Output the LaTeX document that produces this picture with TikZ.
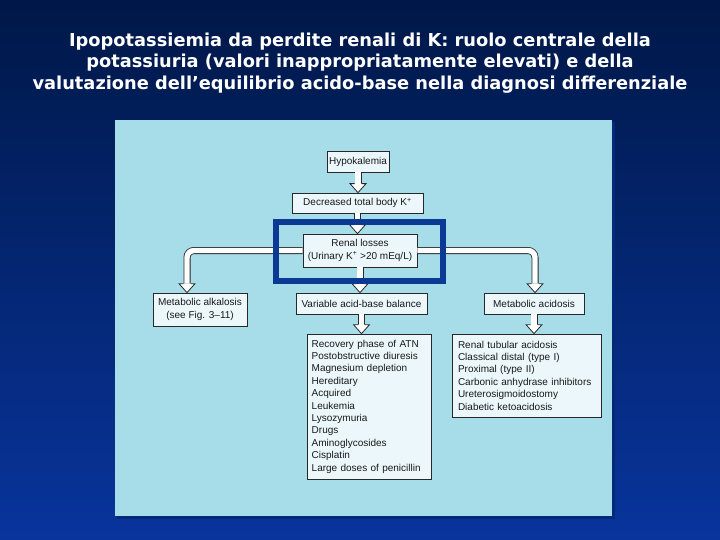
\documentclass[tikz,border=0pt]{standalone}
\usepackage{fontspec}
\setmainfont{Liberation Sans}
\newfontfamily\titlefont{DejaVu Sans}
\definecolor{bgtop}{RGB}{0,24,72}
\definecolor{bgbot}{RGB}{8,52,156}
\definecolor{panel}{RGB}{166,221,232}
\definecolor{panelshadow}{RGB}{5,40,120}
\definecolor{hl}{RGB}{10,58,148}
\definecolor{boxfill}{RGB}{235,247,250}
\definecolor{boxline}{RGB}{40,40,40}
\definecolor{boxtext}{RGB}{25,25,25}
\newcommand\ahead[1]{\filldraw[headsty] ([xshift=-3.5pt,yshift=9pt]#1) -- ++(-4.5pt,0pt) -- (#1) -- ++(8pt,9pt) -- ++(-4.5pt,0pt);}
\begin{document}
\begin{tikzpicture}[x=1pt,y=-1pt,
  box/.style={draw=boxline, line width=0.7pt, fill=boxfill, text=boxtext, font=\fontsize{10}{12.8}\selectfont, align=center, inner sep=1pt},
  listbox/.style={box, align=left, font=\fontsize{10}{12.4}\selectfont},
  pipe/.style={draw=boxline, line width=0.8pt, double=white, double distance=5.4pt},
  headsty/.style={fill=white, draw=boxline, line width=0.8pt, line join=miter},
  titletext/.style={text=white, font=\titlefont\bfseries\fontsize{17.8}{21}\selectfont, anchor=base}]
\useasboundingbox (0,0) rectangle (720,540);
\shade[top color=bgtop, bottom color=bgbot] (0,0) rectangle (720,540);
\fill[panelshadow] (117,122) rectangle (615,519);
\fill[panel] (115,120) rectangle (612,516);

\node[titletext] (t1) at (360,46.5) {Ipopotassiemia da perdite renali di K: ruolo centrale della};
\node[titletext] (t2) at (360,68) {potassiuria (valori inappropriatamente elevati) e della};
\node[titletext] (t3) at (360,89.5) {valutazione dell’equilibrio acido-base nella diagnosi differenziale};

\node[box, minimum width=62pt, minimum height=21pt] (hypo) at (358,161.5) {Hypokalemia};
\node[box, minimum width=131pt, minimum height=20pt] (dec) at (357.5,203) {Decreased total body K\textsuperscript{+}};
\node[box, minimum width=114pt, minimum height=33pt] (renal) at (360,250.5) {Renal losses\\(Urinary K\textsuperscript{+} >20 mEq/L)};
\node[box, minimum width=94pt, minimum height=33pt] (alk) at (200,309.5) {Metabolic alkalosis\\(see Fig. 3–11)};
\node[box, minimum width=131pt, minimum height=21pt] (var) at (361.5,303.5) {Variable acid-base balance};
\node[box, minimum width=100pt, minimum height=21pt] (acid) at (534,303.5) {Metabolic acidosis};
\node[listbox, minimum width=124pt, minimum height=145pt, text width=114.6pt, inner xsep=4.7pt] (causes) at (369,406.5)
  {Recovery phase of ATN\\Postobstructive diuresis\\Magnesium depletion\\Hereditary\\Acquired\\Leukemia\\Lysozymuria\\Drugs\\Aminoglycosides\\Cisplatin\\Large doses of penicillin};
\node[listbox, minimum width=149pt, minimum height=83pt, text width=137pt, inner xsep=6pt] (acidlist) at (526.5,375.5)
  {Renal tubular acidosis\\Classical distal (type I)\\Proximal (type II)\\Carbonic anhydrase inhibitors\\Ureterosigmoidostomy\\Diabetic ketoacidosis};

\coordinate (a1) at (hypo.south |- dec.north);
\coordinate (a2) at (dec.south |- renal.north);
\coordinate (a3) at (renal.south |- var.north);
\coordinate (a4) at (var.south |- causes.north);
\coordinate (a5) at (acid.south |- acidlist.north);
\coordinate (bl) at ([xshift=-13pt]alk.north);
\coordinate (br) at ([xshift=1pt]acid.north);

\draw[pipe] (hypo.south) -- ([yshift=9pt]a1); \ahead{a1}
\draw[pipe] (dec.south) -- ([yshift=9pt]a2); \ahead{a2}
\draw[pipe] (renal.south) -- ([yshift=9pt]a3); \ahead{a3}
\draw[pipe] (var.south) -- ([yshift=9pt]a4); \ahead{a4}
\draw[pipe] (acid.south) -- ([yshift=9pt]a5); \ahead{a5}
\draw[pipe, rounded corners=7pt] (renal.west) -| ([yshift=9pt]bl); \ahead{bl}
\draw[pipe, rounded corners=7pt] (renal.east) -| ([yshift=9pt]br); \ahead{br}

\node[draw=hl, line width=5.5pt, minimum width=167pt, minimum height=59pt, inner sep=0pt] (focus) at (359.5,251.5) {};
\end{tikzpicture}
\end{document}
